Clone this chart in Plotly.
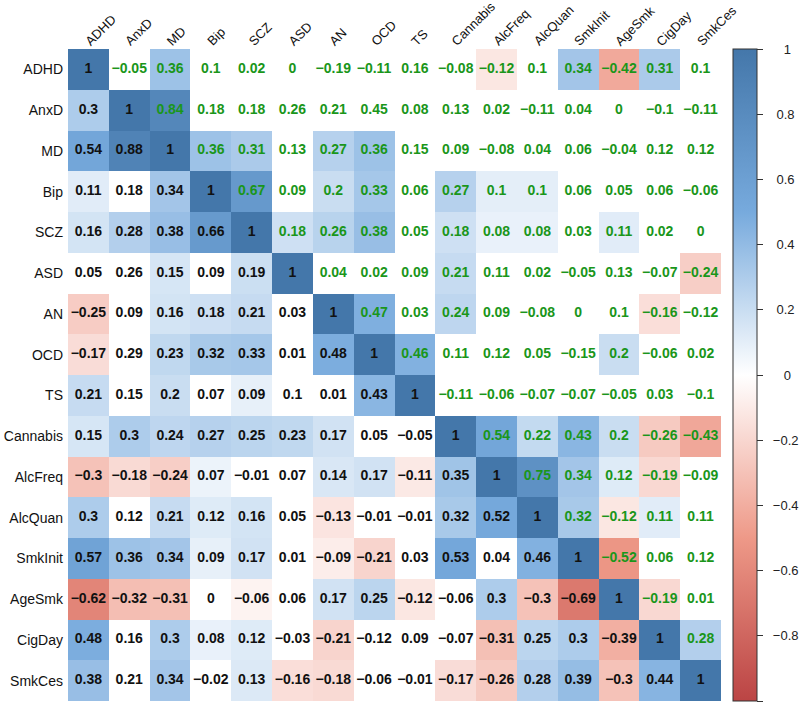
import plotly.graph_objects as go

labels = ["ADHD", "AnxD", "MD", "Bip", "SCZ", "ASD", "AN", "OCD", "TS",
          "Cannabis", "AlcFreq", "AlcQuan", "SmkInit", "AgeSmk", "CigDay", "SmkCes"]

# displayed coefficients (lower triangle + diagonal: black; upper: green)
values = [
    [1, -0.05, 0.36, 0.1, 0.02, 0, -0.19, -0.11, 0.16, -0.08, -0.12, 0.1, 0.34, -0.42, 0.31, 0.1],
    [0.3, 1, 0.84, 0.18, 0.18, 0.26, 0.21, 0.45, 0.08, 0.13, 0.02, -0.11, 0.04, 0, -0.1, -0.11],
    [0.54, 0.88, 1, 0.36, 0.31, 0.13, 0.27, 0.36, 0.15, 0.09, -0.08, 0.04, 0.06, -0.04, 0.12, 0.12],
    [0.11, 0.18, 0.34, 1, 0.67, 0.09, 0.2, 0.33, 0.06, 0.27, 0.1, 0.1, 0.06, 0.05, 0.06, -0.06],
    [0.16, 0.28, 0.38, 0.66, 1, 0.18, 0.26, 0.38, 0.05, 0.18, 0.08, 0.08, 0.03, 0.11, 0.02, 0],
    [0.05, 0.26, 0.15, 0.09, 0.19, 1, 0.04, 0.02, 0.09, 0.21, 0.11, 0.02, -0.05, 0.13, -0.07, -0.24],
    [-0.25, 0.09, 0.16, 0.18, 0.21, 0.03, 1, 0.47, 0.03, 0.24, 0.09, -0.08, 0, 0.1, -0.16, -0.12],
    [-0.17, 0.29, 0.23, 0.32, 0.33, 0.01, 0.48, 1, 0.46, 0.11, 0.12, 0.05, -0.15, 0.2, -0.06, 0.02],
    [0.21, 0.15, 0.2, 0.07, 0.09, 0.1, 0.01, 0.43, 1, -0.11, -0.06, -0.07, -0.07, -0.05, 0.03, -0.1],
    [0.15, 0.3, 0.24, 0.27, 0.25, 0.23, 0.17, 0.05, -0.05, 1, 0.54, 0.22, 0.43, 0.2, -0.26, -0.43],
    [-0.3, -0.18, -0.24, 0.07, -0.01, 0.07, 0.14, 0.17, -0.11, 0.35, 1, 0.75, 0.34, 0.12, -0.19, -0.09],
    [0.3, 0.12, 0.21, 0.12, 0.16, 0.05, -0.13, -0.01, -0.01, 0.32, 0.52, 1, 0.32, -0.12, 0.11, 0.11],
    [0.57, 0.36, 0.34, 0.09, 0.17, 0.01, -0.09, -0.21, 0.03, 0.53, 0.04, 0.46, 1, -0.52, 0.06, 0.12],
    [-0.62, -0.32, -0.31, 0, -0.06, 0.06, 0.17, 0.25, -0.12, -0.06, 0.3, -0.3, -0.69, 1, -0.19, 0.01],
    [0.48, 0.16, 0.3, 0.08, 0.12, -0.03, -0.21, -0.12, 0.09, -0.07, -0.31, 0.25, 0.3, -0.39, 1, 0.28],
    [0.38, 0.21, 0.34, -0.02, 0.13, -0.16, -0.18, -0.06, -0.01, -0.17, -0.26, 0.28, 0.39, -0.3, 0.44, 1],
]

# 1 = cell is shaded (significant), 0 = left blank
shaded = [
    [1, 0, 1, 0, 0, 0, 0, 0, 0, 0, 1, 0, 1, 1, 1, 0],
    [1, 1, 1, 0, 0, 0, 0, 0, 0, 0, 0, 0, 0, 0, 0, 0],
    [1, 1, 1, 1, 1, 0, 1, 1, 0, 0, 0, 0, 0, 0, 0, 0],
    [1, 0, 1, 1, 1, 0, 1, 1, 0, 1, 1, 1, 0, 0, 0, 0],
    [1, 1, 1, 1, 1, 1, 1, 1, 0, 1, 1, 1, 0, 1, 0, 0],
    [0, 0, 1, 0, 1, 1, 0, 0, 0, 1, 0, 0, 0, 0, 0, 1],
    [1, 0, 1, 1, 1, 0, 1, 1, 0, 1, 0, 0, 0, 0, 1, 0],
    [1, 0, 1, 1, 1, 0, 1, 1, 1, 0, 0, 0, 0, 1, 0, 0],
    [1, 0, 1, 0, 1, 0, 0, 1, 1, 0, 0, 0, 0, 0, 0, 0],
    [1, 1, 1, 1, 1, 1, 1, 0, 0, 1, 1, 1, 1, 1, 1, 1],
    [1, 1, 1, 1, 0, 0, 1, 1, 1, 1, 1, 1, 1, 1, 1, 0],
    [1, 0, 1, 1, 1, 0, 1, 0, 0, 1, 1, 1, 1, 1, 1, 0],
    [1, 1, 1, 1, 1, 0, 1, 1, 0, 1, 0, 1, 1, 1, 0, 0],
    [1, 1, 1, 0, 1, 0, 1, 1, 1, 0, 1, 1, 1, 1, 1, 0],
    [1, 0, 1, 1, 1, 0, 1, 0, 0, 0, 1, 1, 1, 1, 1, 1],
    [1, 0, 1, 0, 1, 1, 1, 0, 0, 1, 1, 1, 1, 1, 1, 1],
]

colorbar_ticks = [1, 0.8, 0.6, 0.4, 0.2, 0, -0.2, -0.4, -0.6, -0.8, -1]

n = len(labels)
zcolor = [[values[i][j] if shaded[i][j] else None for j in range(n)] for i in range(n)]


def fmt(v):
    s = ("%.2f" % abs(v)).rstrip("0").rstrip(".")
    if s == "":
        s = "0"
    return ("\u2212" + s) if v < 0 else s


def cb_label(v):
    # pad with figure/punctuation spaces so labels look centred like the original
    s = fmt(v)
    if len(s) == 1:
        pad = "\u2007\u2007\u2008"
    elif s.startswith("\u2212") and len(s) == 2:
        pad = "\u2007\u2007"
    elif s.startswith("\u2212"):
        pad = "\u2007"
    else:
        pad = "\u2007\u2008"
    return pad + s


lx, ly, lt, ux, uy, ut = [], [], [], [], [], []
for i in range(n):
    for j in range(n):
        if j <= i:
            lx.append(labels[j]); ly.append(labels[i]); lt.append(fmt(values[i][j]))
        else:
            ux.append(labels[j]); uy.append(labels[i]); ut.append(fmt(values[i][j]))

colorscale = [[0.0, "#BB4444"], [0.25, "#EE9988"], [0.5, "#FFFFFF"],
              [0.75, "#77AADD"], [1.0, "#4477AA"]]

FONT = "Liberation Sans, Arial"

fig = go.Figure()
fig.add_trace(go.Heatmap(
    z=zcolor, x=labels, y=labels, zmin=-1, zmax=1, colorscale=colorscale,
    hoverongaps=False,
    colorbar=dict(
        x=1.018, xanchor="left", xref="paper", y=0.5, yanchor="middle",
        len=1.0, lenmode="fraction", thickness=24,
        outlinewidth=1, outlinecolor="#333333",
        tickvals=colorbar_ticks, ticktext=[cb_label(v) for v in colorbar_ticks],
        ticks="outside", ticklen=6, tickcolor="#333333",
        tickfont=dict(family=FONT, size=13, color="#222222"),
        ypad=0, xpad=0,
    ),
))
fig.add_trace(go.Scatter(
    x=lx, y=ly, text=lt, mode="text", hoverinfo="skip", showlegend=False,
    textfont=dict(family=FONT, size=14, color="#111111", weight="bold"),
))
fig.add_trace(go.Scatter(
    x=ux, y=uy, text=ut, mode="text", hoverinfo="skip", showlegend=False,
    textfont=dict(family=FONT, size=14, color="#1A961A", weight="bold"),
))

# rotated column labels above the matrix, starting at each column centre
for lab in labels:
    fig.add_annotation(
        x=lab, xref="x", y=1, yref="paper", text=lab, showarrow=False,
        textangle=-45, xanchor="left", yanchor="bottom", xshift=-8, yshift=-1,
        borderpad=0,
        font=dict(family=FONT, size=13, color="#111111"),
    )

fig.update_layout(
    width=800, height=707,
    margin=dict(l=68, r=79, t=49, b=6, autoexpand=False),
    plot_bgcolor="white", paper_bgcolor="white",
    xaxis=dict(type="category", categoryorder="array", categoryarray=labels,
               showticklabels=False, showgrid=False, zeroline=False, showline=False, ticks="",
               automargin=False, autorange=False, range=[-0.5, n - 0.5]),
    yaxis=dict(type="category", categoryorder="array", categoryarray=labels,
               autorange=False, range=[n - 0.5, -0.5],
               showgrid=False, zeroline=False, showline=False, ticks="",
               automargin=False,
               tickfont=dict(family=FONT, size=14, color="#111111"),
               ticklabelstandoff=4),
)

# remove the browser's default 8px page margin so the figure sits at the window origin
fig.write_html("out.html", config={"displayModeBar": False},
               post_script="document.body.style.margin='0';document.body.style.overflow='hidden';")
